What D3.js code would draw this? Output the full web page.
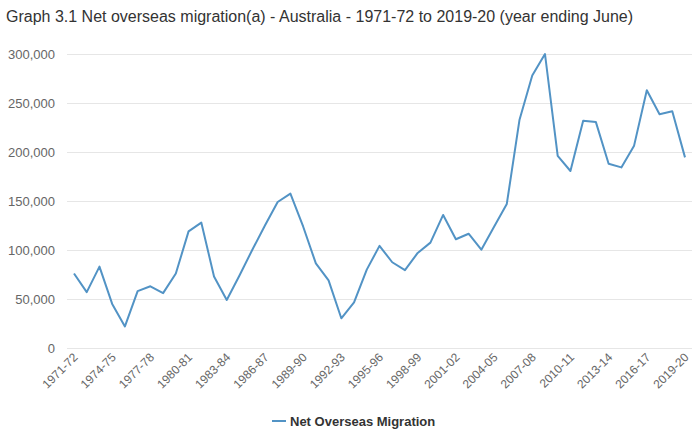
<!DOCTYPE html>
<html><head><meta charset="utf-8">
<script src="https://cdn.jsdelivr.net/npm/d3@7"></script>
<style>
html,body{margin:0;padding:0;background:#fff;}
svg{display:block;font-family:"Helvetica Neue",Helvetica,"Liberation Sans",Arial,sans-serif;}
</style></head>
<body><svg id="c" width="700" height="432"></svg>
<script>
const categories = ["1971-72","1972-73","1973-74","1974-75","1975-76","1976-77","1977-78","1978-79","1979-80","1980-81","1981-82","1982-83","1983-84","1984-85","1985-86","1986-87","1987-88","1988-89","1989-90","1990-91","1991-92","1992-93","1993-94","1994-95","1995-96","1996-97","1997-98","1998-99","1999-00","2000-01","2001-02","2002-03","2003-04","2004-05","2005-06","2006-07","2007-08","2008-09","2009-10","2010-11","2011-12","2012-13","2013-14","2014-15","2015-16","2016-17","2017-18","2018-19","2019-20"];
const netOverseasMigration = [76000,57000,83000,45000,22000,58000,63000,56000,76000,119000,128000,73000,49000,74000,100000,125000,149000,157500,124000,86300,69000,30300,46500,80000,104200,87500,79500,97000,107500,135800,111000,116600,100300,123700,147000,233000,278000,300000,196000,180600,232000,230500,188000,184300,206500,263000,238600,241500,194500];
const yTicks = [0,50000,100000,150000,200000,250000,300000];
const tickCategories = categories.filter((d,i)=>i%3===0);
const seriesName = "Net Overseas Migration";
const title = "Graph 3.1 Net overseas migration(a) - Australia - 1971-72 to 2019-20 (year ending June)";

(function(){
const svg = d3.select("#c");
const pl = 67, pr = 692, pt = 54, pb = 348;
const x = d3.scalePoint().domain(categories).range([74, 685]);
const y = d3.scaleLinear().domain([0,300000]).range([pb, pt]);

svg.append("text").attr("x",6).attr("y",22).attr("fill","#333")
  .style("font-size","16px").text(title);

const yAxis = d3.axisLeft(y).tickValues(yTicks).tickSize(-(pr-pl)).tickFormat(d3.format(","));
const gy = svg.append("g").attr("transform",`translate(${pl},0)`).call(yAxis);
gy.select(".domain").remove();
gy.selectAll(".tick line").attr("stroke","#e6e6e6").attr("stroke-width",1);
gy.selectAll(".tick text").attr("x",-12).attr("fill","#666").style("font-size","13px").style("font-family","inherit");

const xAxis = d3.axisBottom(x).tickValues(tickCategories).tickSize(0);
const gx = svg.append("g").attr("transform",`translate(0,${pb})`).call(xAxis);
gx.select(".domain").remove();
gx.selectAll(".tick text")
  .attr("text-anchor","end").attr("dy",0).attr("y",0)
  .attr("transform","translate(4,10) rotate(-45)")
  .attr("fill","#666").style("font-size","12px").style("font-family","inherit");

const line = d3.line().x((d,i)=>x(categories[i])).y(d=>y(d));
svg.append("path").datum(netOverseasMigration).attr("d",line)
  .attr("fill","none").attr("stroke","#5293c5").attr("stroke-width",2).attr("stroke-linejoin","round");

const lg = svg.append("g").attr("transform","translate(272,421)");
lg.append("line").attr("x1",0).attr("x2",14).attr("y1",0).attr("y2",0).attr("stroke","#5293c5").attr("stroke-width",2);
lg.append("text").attr("x",18).attr("y",5).attr("fill","#333").style("font-size","13px").style("font-weight","bold").text(seriesName);
})();
</script></body></html>
